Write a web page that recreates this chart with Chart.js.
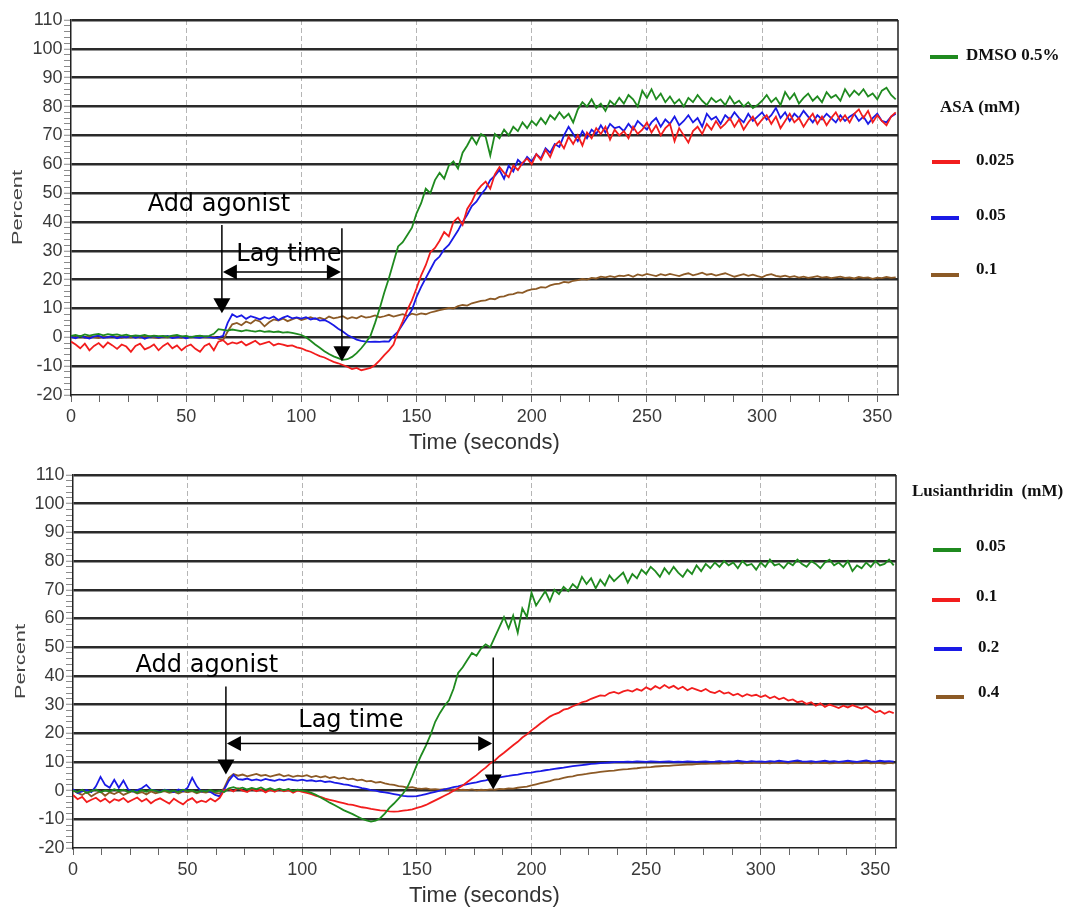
<!DOCTYPE html>
<html>
<head>
<meta charset="utf-8">
<script src="https://cdn.jsdelivr.net/npm/chart.js@4"></script>
<style>
  html, body { margin: 0; padding: 0; background: #fff; }
  #wrap { position: relative; width: 1069px; height: 909px; }
  canvas { position: absolute; left: 0; }
</style>
</head>
<body>
<div id="wrap">
  <canvas id="topChart" width="1069" height="455" style="top:0"></canvas>
  <canvas id="bottomChart" width="1069" height="454" style="top:455px"></canvas>
</div>
<script>
// sampling grid: one reading every 2 s, 0..358 s
const times = Array.from({ length: 180 }, (_, i) => i * 2);

// ---- top panel: DMSO + ASA ----
const dmso = [
  0.5, 0.8, 0.3, 1.0, 0.6, 0.9, 1.2, 0.7, 1.1, 0.8,
  1.0, 0.6, 0.9, 0.4, 0.7, 0.5, 0.8, 0.3, 0.6, 0.4,
  0.5, 0.2, 0.6, 0.8, 0.3, 0.5, 0.1, 0.4, 0.6, 0.3,
  0.5, 1.2, 2.8, 2.6, 2.3, 2.7, 2.4, 2.1, 2.5, 2.2,
  2.0, 2.3, 1.9, 2.1, 1.8, 2.0, 1.6, 1.8, 1.5, 1.2,
  0.8, 0.0, -1.2, -2.5, -3.6, -4.8, -5.8, -6.6, -7.2, -7.8,
  -7.6, -6.8, -5.5, -3.8, -1.8, 0.5, 5.0, 10.0, 15.5, 20.5,
  26.0, 31.5, 33.0, 35.5, 38.0, 43.0, 46.5, 51.5, 50.0, 54.5,
  57.0, 55.0, 59.5, 61.0, 58.5, 64.0, 66.5, 69.5, 67.0, 70.5,
  69.5, 63.0, 70.5, 69.0, 72.0, 70.0, 73.0, 71.5, 74.5, 72.5,
  75.0, 73.5, 76.0, 74.0, 77.0, 75.5, 78.0, 76.0, 77.5, 74.5,
  79.0, 81.5, 80.0, 82.5, 79.5, 81.0, 78.5, 82.0, 80.5, 83.0,
  81.0, 84.0, 82.5, 80.0, 85.5, 83.0, 86.0, 82.5, 84.5, 81.5,
  83.5, 81.0, 82.5, 80.0, 83.0, 81.5, 84.0, 82.0, 80.5, 83.0,
  81.5, 82.5, 80.5, 83.5, 81.0, 82.0, 80.0, 81.5, 79.5, 80.5,
  82.0, 84.0, 81.5, 83.0, 80.5, 85.0, 82.5, 84.5, 81.0, 83.0,
  84.5, 82.0, 83.5, 81.5, 85.0, 83.0, 84.0, 82.0, 86.0, 83.5,
  85.5, 84.0, 86.0, 83.5, 84.5, 82.5, 85.5, 86.5, 84.0, 82.5
];
const asa025 = [
  -1.5, -2.5, -3.8, -2.2, -4.5, -3.0, -2.0, -3.5, -1.8, -2.8,
  -4.0, -2.5, -3.2, -5.0, -3.0, -2.2, -4.2, -3.5, -2.5, -4.5,
  -3.0, -2.0, -3.8, -2.8, -4.5, -3.2, -2.5, -4.0, -5.0, -3.0,
  -2.2, -4.5, -1.5, -1.0, -2.5, -1.8, -2.2, -1.5, -2.8, -2.0,
  -1.2, -2.5, -2.0, -1.5, -2.8, -2.2, -2.5, -3.0, -2.8, -3.5,
  -3.8, -4.5, -5.0, -5.8, -6.5, -7.0, -7.8, -8.5, -9.0, -9.6,
  -10.2, -11.0, -10.6, -11.4, -11.0, -10.6, -9.6, -8.0, -6.2, -4.5,
  -2.5, 2.0, 5.5, 9.5, 12.8, 17.0, 21.5, 25.0, 29.5, 31.0,
  33.5, 36.5, 35.0, 40.0, 41.5, 39.0, 44.5, 47.0, 50.5, 52.5,
  54.0, 51.5, 56.5, 59.0, 57.0, 55.5, 59.5, 58.0, 60.5, 62.0,
  60.0, 63.5, 61.5, 65.0, 62.5, 66.5, 68.0, 65.5, 69.5, 67.0,
  70.0, 66.5, 71.0, 69.0, 72.5, 70.5, 73.0, 68.5, 72.0, 70.0,
  71.5, 69.0, 73.0, 70.5, 72.0, 74.5, 71.0, 73.5, 70.0, 72.5,
  74.0, 68.0, 72.5, 70.0, 67.5, 71.5, 73.0, 70.5, 74.0, 72.0,
  75.0, 72.5, 74.0, 76.0, 73.0, 75.5, 72.0, 74.5, 76.5, 73.5,
  75.5, 77.0, 74.0, 76.5, 72.5, 75.0, 77.5, 74.5, 76.0, 73.0,
  75.5, 77.5, 74.0, 76.5, 73.5, 76.0, 78.0, 75.0, 77.0, 74.5,
  77.5, 79.0, 76.0, 78.5, 74.5, 77.0, 75.0, 73.5, 76.5, 78.0
];
const asa05 = [
  0.2, -0.3, 0.5, 0.0, -0.4, 0.3, 0.6, -0.2, 0.1, 0.4,
  -0.3, 0.2, 0.0, 0.5, -0.2, 0.3, -0.5, 0.1, 0.4, -0.1,
  0.2, 0.5, -0.3, 0.0, 0.3, -0.4, 0.2, 0.0, -0.2, 0.3,
  0.1, -0.2, 0.0, 0.5, 5.0, 8.0, 7.0, 7.6, 6.4, 7.3,
  6.8, 6.2, 7.0, 6.5, 7.2, 6.0, 6.8, 7.4, 6.6, 6.9,
  6.5, 7.0, 6.2, 6.6, 5.8, 6.0, 5.2, 4.2, 3.0, 2.0,
  0.8, 0.0, -0.8, -1.2, -1.5, -1.6, -1.5, -1.6, -1.4, -1.5,
  0.5, 2.0, 4.5, 7.0, 9.5, 14.0, 17.5, 20.5, 23.5, 26.5,
  28.0, 30.5, 32.0, 34.5, 37.0, 40.0, 42.5, 45.5, 47.0, 49.5,
  51.5, 54.5, 56.0, 58.0, 55.0, 59.5, 57.5, 61.5, 60.0, 62.5,
  61.0, 63.5, 62.0, 65.5, 64.0, 67.0, 66.0, 70.0, 73.0, 70.5,
  68.0, 71.5, 69.0, 72.0, 70.5, 73.5, 71.0, 74.0, 72.5, 73.0,
  71.5, 74.0, 72.0, 75.0, 73.5, 72.0, 74.5, 76.0, 73.0, 75.5,
  74.0, 76.5, 73.5, 75.0, 77.0, 74.5, 76.0, 73.0, 77.5, 75.5,
  76.5, 74.0, 77.0, 75.5, 78.0, 76.0, 74.5, 77.5, 75.0, 76.5,
  78.0, 75.5, 77.0, 79.5, 76.0, 78.0, 75.0, 77.5, 76.0, 78.5,
  76.5, 74.5, 77.0, 75.5, 77.5, 76.0, 74.5, 77.0, 75.0, 76.5,
  77.5, 75.0, 76.5, 74.0, 76.0, 77.5, 75.0, 74.5, 76.5, 77.5
];
const asa1 = [
  0.3, 0.0, 0.5, -0.2, 0.4, 0.1, -0.3, 0.3, 0.0, 0.4,
  0.1, -0.2, 0.3, 0.0, 0.5, -0.1, 0.2, 0.4, 0.0, -0.3,
  0.2, 0.0, 0.4, 0.1, -0.2, 0.3, 0.0, 0.2, 0.5, 0.1,
  0.0, 0.2, -0.5, -1.0, 2.0, 4.5, 5.0, 4.2, 5.5, 4.8,
  6.0, 5.5, 3.8, 5.2, 6.2, 5.8, 6.5, 5.6, 6.2, 6.8,
  6.0, 6.5, 7.0, 6.3, 6.8, 6.2, 7.2, 6.6, 6.9, 7.3,
  6.4, 7.0, 6.6, 7.4, 6.8, 7.1, 7.6, 6.9, 7.3, 7.8,
  7.2, 7.6, 8.0, 7.4, 8.2, 7.8, 8.3, 8.0, 8.6, 9.0,
  9.4, 9.8, 10.2, 10.0, 10.8, 11.2, 11.0, 11.8, 12.2, 12.6,
  12.8, 13.4, 13.2, 14.0, 14.2, 14.8, 15.0, 15.6, 15.4, 16.2,
  16.6, 16.8, 17.4, 17.2, 18.0, 18.4, 18.6, 19.2, 19.0, 19.6,
  19.8, 20.2, 20.0, 20.6, 20.4, 21.0, 20.8, 21.2, 20.9, 21.4,
  21.2, 21.6, 21.0, 21.8, 21.4, 22.0, 21.6, 21.2, 21.9, 21.5,
  22.0, 21.6, 21.2, 21.8, 22.2, 21.5, 21.9, 22.4, 21.7, 22.0,
  21.4, 21.8, 22.2, 21.6, 21.0, 21.5, 21.9, 21.3, 21.7, 21.2,
  20.8, 21.6, 21.9, 21.3, 21.0, 21.4, 20.9, 21.2, 20.7, 21.0,
  20.6, 20.9, 21.2, 20.7, 20.9, 20.5, 20.8, 21.0, 20.6, 20.8,
  20.4, 20.9, 20.6, 20.8, 20.3, 20.7, 20.5, 20.9, 20.6, 20.8
];

// ---- bottom panel: Lusianthridin ----
const lus005 = [
  0.0, -0.5, 0.3, -0.8, -0.2, 0.4, -0.6, 0.1, -0.3, 0.5,
  -0.2, 0.3, -0.5, 0.0, -0.7, 0.2, -0.4, 0.3, -0.1, -0.6,
  0.2, -0.3, 0.0, -0.5, 0.3, -0.2, 0.1, -0.6, 0.0, -0.3,
  0.2, -0.4, 0.0, -0.5, 0.8, 1.2, 0.6, 1.0, 0.4, 0.9,
  0.5, 1.1, 0.3, 0.8, 0.2, 0.7, 0.1, 0.6, -0.2, 0.3,
  0.0, -0.3, -0.8, -1.5, -2.4, -3.3, -4.2, -5.0, -5.9, -6.8,
  -7.5, -8.2, -9.0, -9.8, -10.4, -10.8, -10.5, -9.6, -8.0, -6.0,
  -4.5, -2.8, -1.0, 1.4, 5.0, 9.0, 12.5, 15.8, 19.5, 24.0,
  27.0, 29.5, 31.5, 35.5, 41.0, 43.0, 45.5, 48.0, 47.0, 49.5,
  51.0, 50.0, 53.5, 57.0, 60.5, 56.5, 61.0, 55.0, 63.5, 60.5,
  69.0, 64.5, 67.0, 69.5, 66.0, 70.0, 68.5, 71.0, 69.5, 72.0,
  70.5, 74.5, 72.0, 74.0, 70.5, 73.5, 71.5, 75.0, 73.0, 74.5,
  76.0, 72.5, 75.5, 74.0, 77.0, 75.5, 78.0, 76.5, 74.5, 77.5,
  75.5, 78.0, 76.0, 74.5, 77.0, 75.5, 78.5, 76.5, 79.0, 77.5,
  79.5, 78.0, 80.0, 78.5, 79.5, 77.5, 80.0, 78.5, 79.0, 77.0,
  79.5, 78.0, 80.5, 78.5, 79.0, 77.5, 79.5, 78.5, 80.5, 79.0,
  78.0, 80.0, 79.0, 77.5, 79.5, 80.5, 78.5, 79.5, 78.0, 80.0,
  76.5, 78.5, 77.5, 79.5, 78.0, 80.0, 78.5, 79.0, 80.5, 78.5
];
const lus01 = [
  -1.5, -3.0, -2.2, -4.0, -3.2, -2.5, -3.8, -2.8, -4.2, -3.0,
  -3.5, -2.6, -4.0, -3.2, -2.4, -3.8, -2.9, -4.4, -3.3, -2.7,
  -3.6, -4.5, -2.8, -3.9, -4.8, -3.4, -2.6, -4.2, -3.5, -4.0,
  -2.8, -3.8, -2.5, 0.2, 0.5, -0.3, 0.8, 0.0, -0.5, 0.6,
  -0.2, 0.4, -0.6, 0.3, -0.4, 0.5, -0.2, 0.2, -0.7, 0.1,
  -0.4, -0.8, -1.2, -1.8, -2.2, -2.8, -3.2, -3.6, -4.0, -4.4,
  -4.8, -5.0, -5.4, -5.8, -6.0, -6.4, -6.6, -6.9, -7.0, -7.2,
  -7.3, -7.2, -7.0, -6.8, -6.5, -6.0, -5.6, -5.0, -4.2, -3.4,
  -2.6, -1.8, -1.0, 0.0, 0.8, 1.8, 3.0, 4.2, 5.4, 6.8,
  8.0, 9.5, 10.5, 12.0, 13.2, 14.5, 15.8, 17.0, 18.5, 19.6,
  21.0, 22.2, 23.5, 24.6, 25.8, 26.6, 27.2, 28.2, 28.6, 29.4,
  30.0, 30.8, 31.2, 32.0, 32.6, 33.2, 33.0, 34.0, 34.4, 33.8,
  34.6, 35.0, 34.5, 35.4, 34.8, 36.0, 35.2, 36.4, 35.6, 36.8,
  35.8, 36.5, 35.4, 36.2, 35.0, 35.8, 35.2, 34.6, 35.4, 34.4,
  34.0, 34.8, 33.8, 34.2, 33.2, 33.8, 32.8, 33.6, 33.0, 33.4,
  32.6, 33.2, 32.2, 32.8, 31.8, 32.4, 31.4, 31.8, 30.8, 31.2,
  30.2, 30.8, 29.6, 30.4, 29.2, 30.0, 29.4, 28.8, 29.6, 29.0,
  29.8, 29.2, 28.6, 29.4, 28.4, 27.2, 27.8, 26.8, 27.6, 27.0
];
const lus02 = [
  0.5, -0.8, -0.3, 0.2, -0.5, 1.5, 4.8, 2.0, 1.0, 3.8,
  1.0, 3.5, 0.5, -0.3, 0.2, 0.8, 2.0, 0.3, 0.0, -0.4,
  0.3, 0.0, -0.5, 0.4, -0.2, 1.0, 4.5, 1.5, -0.3, 0.0,
  -0.5, -1.5, -2.0, 0.5, 3.5, 5.5, 4.0, 3.8, 4.2, 3.6,
  3.9, 3.5, 4.1, 3.7, 3.4, 3.9, 3.6, 4.0, 3.7, 3.5,
  3.8, 3.4, 3.6, 3.2, 3.5, 3.0, 3.2, 2.8, 2.5, 2.2,
  2.0, 1.6, 1.3, 0.9, 0.6, 0.2, 0.0, -0.4, -0.6, -0.9,
  -1.2, -1.5, -1.8, -2.0, -2.0, -1.9, -1.6, -1.2, -0.8, -0.4,
  0.0, 0.4, 0.8, 1.2, 1.5, 1.9, 2.3, 2.6, 2.9, 3.3,
  3.6, 4.0, 4.3, 4.6, 4.9, 5.1, 5.4, 5.6, 5.9, 6.2,
  6.3, 6.6, 6.8, 7.1, 7.3, 7.6, 7.8, 8.0, 8.3, 8.5,
  8.7, 8.9, 9.1, 9.3, 9.4, 9.6, 9.7, 9.8, 9.9, 10.0,
  10.0, 10.1, 10.0, 10.2, 10.1, 10.0, 10.2, 10.1, 10.0, 10.1,
  10.2, 10.0, 10.1, 10.0, 10.2, 10.1, 10.0, 10.1, 10.2, 10.0,
  10.1, 10.3, 10.0, 10.2, 10.1, 10.4, 10.2, 10.0, 10.3, 10.1,
  10.2, 10.0, 10.3, 10.1, 10.4, 10.2, 10.0, 10.3, 10.5, 10.2,
  10.1, 10.3, 10.0, 10.2, 10.4, 10.1, 10.3, 10.0, 10.2, 10.4,
  10.2, 10.0, 10.3, 10.5, 10.2, 10.1, 10.4, 10.2, 10.3, 10.1
];
const lus04 = [
  0.0, -0.8, -1.5, -0.5, -2.0, -1.0, -0.3, -1.8, -0.6, -1.2,
  -0.4, -1.5, -0.8, -0.2, -1.0, -0.5, -1.3, -0.3, -0.9, -0.5,
  -0.2, -0.8, -0.4, -1.0, -0.3, -0.6, -0.2, -0.9, -0.4, -0.7,
  -0.3, -0.8, -1.0, 1.0, 4.5, 5.8, 5.2, 5.6, 5.0, 5.4,
  5.8, 5.2, 5.5, 4.9, 5.3, 5.7, 5.0, 5.4, 4.8, 5.2,
  5.0, 5.4, 4.7, 5.1, 4.6, 5.0, 4.4, 4.8, 4.2, 4.5,
  3.9, 4.2, 3.6, 3.8, 3.2, 3.4, 2.8, 3.0, 2.5, 2.2,
  2.0, 1.6, 1.4, 1.0, 1.2, 0.8, 0.6, 0.8, 0.4, 0.5,
  0.3, 0.5, 0.2, 0.4, 0.1, 0.3, 0.2, 0.4, 0.1, 0.3,
  0.2, 0.4, 0.3, 0.6, 0.5, 0.8, 0.7, 1.0, 1.2, 1.4,
  1.8, 2.2, 2.6, 3.0, 3.3, 3.8, 4.0, 4.4, 4.8, 5.0,
  5.4, 5.6, 5.8, 6.1, 6.3, 6.5, 6.7, 6.9, 7.0, 7.2,
  7.4, 7.5, 7.7, 7.8, 8.0, 8.1, 8.2, 8.4, 8.5, 8.6,
  8.6, 8.8, 8.9, 9.0, 9.1, 9.1, 9.2, 9.3, 9.3, 9.4,
  9.5, 9.4, 9.6, 9.5, 9.7, 9.6, 9.5, 9.7, 9.6, 9.8,
  9.6, 9.7, 9.5, 9.8, 9.6, 9.7, 9.5, 9.8, 9.7, 9.6,
  9.7, 9.5, 9.8, 9.6, 9.7, 9.5, 9.6, 9.8, 9.6, 9.7,
  9.5, 9.7, 9.6, 9.8, 9.5, 9.7, 9.6, 9.4, 9.7, 9.5
];

const GREEN = '#1f8a1f', RED = '#f21d1d', BLUE = '#1a1ae6', BROWN = '#8c5a26';

const topSeries = [
  { label: 'DMSO 0.5%', values: dmso, color: GREEN },
  { label: '0.025', values: asa025, color: RED },
  { label: '0.05', values: asa05, color: BLUE },
  { label: '0.1', values: asa1, color: BROWN }
];
const bottomSeries = [
  { label: '0.05', values: lus005, color: GREEN },
  { label: '0.1', values: lus01, color: RED },
  { label: '0.2', values: lus02, color: BLUE },
  { label: '0.4', values: lus04, color: BROWN }
];

const tickFont = { family: '"Liberation Sans", Arial, sans-serif', size: 18 };
const noteFont = '24px "DejaVu Sans", sans-serif';
const legendFont = 'bold 17px "Liberation Serif", "Times New Roman", serif';

function arrowHead(ctx, x, y, dir) {
  ctx.beginPath();
  if (dir === 'down') {
    ctx.moveTo(x, y); ctx.lineTo(x - 8.5, y - 15); ctx.lineTo(x + 8.5, y - 15);
  } else if (dir === 'left') {
    ctx.moveTo(x, y); ctx.lineTo(x + 14, y - 7.5); ctx.lineTo(x + 14, y + 7.5);
  } else {
    ctx.moveTo(x, y); ctx.lineTo(x - 14, y - 7.5); ctx.lineTo(x - 14, y + 7.5);
  }
  ctx.closePath();
  ctx.fill();
}

function decor(cfg) {
  return {
    id: 'decor',
    afterDatasetsDraw(chart) {
      const { ctx, chartArea: a, scales: { x, y } } = chart;
      ctx.save();
      // right frame edge
      ctx.strokeStyle = '#222';
      ctx.lineWidth = 1.5;
      ctx.beginPath();
      ctx.moveTo(a.right, a.top);
      ctx.lineTo(a.right, a.bottom);
      ctx.stroke();

      // annotations
      const n = cfg.notes;
      ctx.fillStyle = '#000';
      ctx.strokeStyle = '#000';
      ctx.lineWidth = 1.5;
      const ax = x.getPixelForValue(n.addX);
      ctx.beginPath();
      ctx.moveTo(ax, y.getPixelForValue(n.addTop));
      ctx.lineTo(ax, y.getPixelForValue(n.addTip) - 4);
      ctx.stroke();
      arrowHead(ctx, ax, y.getPixelForValue(n.addTip), 'down');

      const lx = x.getPixelForValue(n.lagX);
      ctx.beginPath();
      ctx.moveTo(lx, y.getPixelForValue(n.lagTop));
      ctx.lineTo(lx, y.getPixelForValue(n.lagTip) - 4);
      ctx.stroke();
      arrowHead(ctx, lx, y.getPixelForValue(n.lagTip), 'down');

      const hy = y.getPixelForValue(n.lagY);
      ctx.beginPath();
      ctx.moveTo(ax + 4, hy);
      ctx.lineTo(lx - 4, hy);
      ctx.stroke();
      arrowHead(ctx, ax + 1, hy, 'left');
      arrowHead(ctx, lx - 1, hy, 'right');

      ctx.font = noteFont;
      ctx.textAlign = 'center';
      ctx.textBaseline = 'alphabetic';
      ctx.fillText('Add agonist', x.getPixelForValue(n.addTextX), y.getPixelForValue(n.addTextY));
      ctx.fillText('Lag time', x.getPixelForValue(n.lagTextX), y.getPixelForValue(n.lagTextY));

      // axis titles
      ctx.fillStyle = '#333';
      ctx.font = '22px "Liberation Sans", Arial, sans-serif';
      ctx.textBaseline = 'middle';
      ctx.fillText('Time (seconds)', (a.left + a.right) / 2, a.bottom + 48);
      ctx.save();
      ctx.translate(cfg.percentX, (a.top + a.bottom) / 2);
      ctx.rotate(-Math.PI / 2);
      ctx.scale(1.45, 1);
      ctx.fillStyle = '#444';
      ctx.font = '15px "Liberation Sans", Arial, sans-serif';
      ctx.fillText('Percent', 0, 0);
      ctx.restore();

      // legend
      ctx.font = legendFont;
      ctx.textAlign = 'left';
      ctx.textBaseline = 'middle';
      ctx.fillStyle = '#111';
      cfg.legendHeads.forEach(h => ctx.fillText(h.text, h.x, h.y));
      cfg.series.forEach((s, i) => {
        const it = cfg.legendItems[i];
        ctx.strokeStyle = s.color;
        ctx.lineWidth = 4;
        ctx.beginPath();
        ctx.moveTo(it.x1, it.y);
        ctx.lineTo(it.x1 + 28, it.y);
        ctx.stroke();
        ctx.fillStyle = '#111';
        ctx.fillText(s.label, it.tx, it.ty);
      });
      ctx.restore();
    }
  };
}

function makeChart(id, cfg) {
  const datasets = cfg.series.map(s => ({
    label: s.label,
    data: times.map((t, i) => ({ x: t, y: s.values[i] })),
    borderColor: s.color,
    borderWidth: 1.8,
    pointRadius: 0,
    tension: 0,
    fill: false
  }));
  return new Chart(document.getElementById(id), {
    type: 'line',
    data: { datasets },
    options: {
      responsive: false,
      animation: false,
      events: [],
      layout: { padding: { left: 0, top: cfg.top, right: 1069 - cfg.right, bottom: 0 } },
      plugins: { legend: { display: false }, tooltip: { enabled: false } },
      scales: {
        x: {
          type: 'linear',
          min: 0,
          max: 359,
          afterFit: s => { s.height = cfg.height - cfg.bottom; },
          ticks: {
            stepSize: 12.5,
            includeBounds: false,
            autoSkip: false,
            maxRotation: 0,
            padding: 4,
            color: '#3a3a3a',
            font: tickFont,
            callback: v => (v % 50 === 0 ? v : '')
          },
          grid: {
            color: c => (c.tick && c.tick.value % 50 === 0 && c.tick.value > 0 ? '#b5b5b5' : 'rgba(0,0,0,0)'),
            lineWidth: 1,
            tickColor: '#666',
            tickWidth: 1,
            tickLength: 7
          },
          border: { color: '#222', width: 1.5, dash: [5, 3] }
        },
        y: {
          min: -20,
          max: 110,
          afterFit: s => { s.width = cfg.left; },
          ticks: {
            stepSize: 2,
            autoSkip: false,
            padding: 1.5,
            color: '#3a3a3a',
            font: tickFont,
            callback: v => (v % 10 === 0 ? v : '')
          },
          grid: {
            color: c => (c.tick && c.tick.value % 10 === 0 && c.tick.value > -20 ? '#2a2a2a' : 'rgba(0,0,0,0)'),
            lineWidth: c => (c.tick && c.tick.value % 10 === 0 ? 2.5 : 1),
            tickColor: '#8a8a8a',
            tickWidth: 1,
            tickLength: 7
          },
          border: { color: '#222', width: 1.5 }
        }
      }
    },
    plugins: [decor(cfg)]
  });
}

makeChart('topChart', {
  series: topSeries,
  height: 455, top: 20, bottom: 395, left: 71, right: 898, percentX: 18,
  notes: {
    addX: 65.5, addTop: 38.9, addTip: 8.3,
    lagX: 117.6, lagTop: 37.8, lagTip: -8.3,
    lagY: 22.6,
    addTextX: 64.2, addTextY: 43.7,
    lagTextX: 94.6, lagTextY: 26.4
  },
  legendHeads: [{ text: 'ASA (mM)', x: 940, y: 108 }],
  legendItems: [
    { x1: 930, y: 57, tx: 966, ty: 56 },
    { x1: 932, y: 162, tx: 976, ty: 161 },
    { x1: 931, y: 218, tx: 976, ty: 216 },
    { x1: 931, y: 275, tx: 976, ty: 270 }
  ]
});

makeChart('bottomChart', {
  series: bottomSeries,
  height: 454, top: 20, bottom: 393, left: 73, right: 896, percentX: 21,
  notes: {
    addX: 66.7, addTop: 36.3, addTip: 5.6,
    lagX: 183.3, lagTop: 46.4, lagTip: 0.35,
    lagY: 16.4,
    addTextX: 58.4, addTextY: 41.2,
    lagTextX: 121.2, lagTextY: 22.3
  },
  legendHeads: [{ text: 'Lusianthridin  (mM)', x: 912, y: 37 }],
  legendItems: [
    { x1: 933, y: 95, tx: 976, ty: 92 },
    { x1: 932, y: 145, tx: 976, ty: 142 },
    { x1: 934, y: 194, tx: 978, ty: 193 },
    { x1: 936, y: 242, tx: 978, ty: 238 }
  ]
});
</script>
</body>
</html>
